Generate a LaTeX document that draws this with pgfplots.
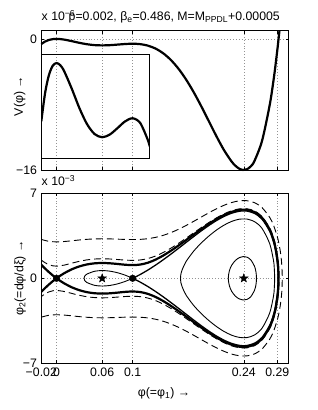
\documentclass[border=0pt]{standalone}
\usepackage{fontspec}
\setmainfont{Liberation Sans}
\usepackage{pgfplots}
\pgfplotsset{compat=1.18}
\usetikzlibrary{plotmarks}
\pgfdeclareplotmark{fstar}{%
  \pgfpathmoveto{\pgfpointpolar{90}{\pgfplotmarksize}}%
  \pgfpathlineto{\pgfpointpolar{126}{0.42\pgfplotmarksize}}%
  \pgfpathlineto{\pgfpointpolar{162}{\pgfplotmarksize}}%
  \pgfpathlineto{\pgfpointpolar{198}{0.42\pgfplotmarksize}}%
  \pgfpathlineto{\pgfpointpolar{234}{\pgfplotmarksize}}%
  \pgfpathlineto{\pgfpointpolar{270}{0.42\pgfplotmarksize}}%
  \pgfpathlineto{\pgfpointpolar{306}{\pgfplotmarksize}}%
  \pgfpathlineto{\pgfpointpolar{342}{0.42\pgfplotmarksize}}%
  \pgfpathlineto{\pgfpointpolar{18}{\pgfplotmarksize}}%
  \pgfpathlineto{\pgfpointpolar{54}{0.42\pgfplotmarksize}}%
  \pgfpathclose
  \pgfusepathqfillstroke
}
\pgfplotsset{
  panel/.style={
    scale only axis, width=247.4pt,
    xmin=-0.02, xmax=0.305,
    xtick={-0.02,0,0.06,0.1,0.246,0.29},
    tick align=inside, tick pos=both, major tick length=3pt,
    xmajorgrids, ymajorgrids,
    grid style={gray!85, line width=0.55pt, dash pattern=on 0.55pt off 2.4pt},
    axis line style={line width=0.6pt},
    every tick/.style={black, line width=0.5pt},
    tick label style={font=\fontsize{12.3}{14}\selectfont},
    /pgf/number format/assume math mode=true,
    scaled ticks=false,
  },
  thickc/.style={black, line width=2.2pt, line join=round},
  medc/.style={black, line width=1.3pt, line join=round},
  thinc/.style={black, line width=0.9pt, line join=round},
  dashc/.style={black, line width=0.9pt, dash pattern=on 7pt off 4pt},
}
\begin{document}
\fontsize{12.3}{14}\selectfont
\begin{tikzpicture}[x=1pt,y=1pt]
\path (0,0) rectangle (318,410);
% ---------- top panel ----------
\begin{axis}[panel, at={(41.3pt,240pt)}, anchor=south west, height=139.3pt,
  ymin=-16, ymax=1, ytick={-16,0}, yticklabels={−16,0}, xticklabel=\empty, clip=false]
\addplot[thickc, smooth] coordinates {
(-0.02,-0.624) (-0.015,-0.320) (-0.01,-0.1296) (-0.005,-0.0294) (0,0) (0.005,-0.0240)
(0.01,-0.0860) (0.02,-0.2736) (0.03,-0.4803) (0.04,-0.6520) (0.05,-0.7592) (0.06,-0.7937)
(0.07,-0.7651) (0.08,-0.6972) (0.09,-0.6251) (0.10,-0.5908) (0.11,-0.6408) (0.12,-0.8217)
(0.13,-1.1775) (0.14,-1.7455) (0.15,-2.5533) (0.16,-3.6152) (0.17,-4.9287) (0.18,-6.4710)
(0.19,-8.1958) (0.20,-10.0294) (0.21,-11.8676) (0.22,-13.5723) (0.23,-14.9676) (0.235,-15.4833)
(0.24,-15.8367) (0.245,-15.9944) (0.25,-15.9186) (0.255,-15.5699) (0.26,-14.9040) (0.27,-12.4325)
(0.28,-8.0890) (0.285,-5.095) (0.2875,-3.3207) (0.29,-1.4003) (0.291,-0.581) (0.292,0.270)
(0.29284,1.0)};
\end{axis}
% inset
\begin{axis}[scale only axis, at={(41.3pt,251.7pt)}, anchor=south west,
  width=108.4pt, height=104.3pt, xmin=-0.02, xmax=0.1225, ymin=-1.019, ymax=0.0966,
  xtick=\empty, ytick=\empty, axis line style={line width=0.6pt}]
\addplot[thickc, smooth] coordinates {
(-0.02,-0.624) (-0.015,-0.320) (-0.01,-0.1296) (-0.005,-0.0294) (0,0) (0.005,-0.0240)
(0.01,-0.0860) (0.02,-0.2736) (0.03,-0.4803) (0.04,-0.6520) (0.05,-0.7592) (0.06,-0.7937)
(0.07,-0.7651) (0.08,-0.6972) (0.09,-0.6251) (0.10,-0.5908) (0.11,-0.6408) (0.12,-0.8217)
(0.1225,-0.8925)};
\end{axis}
% ---------- bottom panel ----------
\begin{axis}[panel, at={(41.3pt,46.7pt)}, anchor=south west, height=170pt,
  ymin=-7, ymax=7, ytick={-7,0,7}, yticklabels={−7,0,7},
  xticklabels={−0.02,0,0.06,0.1,0.24,0.29}]
% outer dashed (E = 4.5)
\addplot[dashc, smooth] coordinates {
(-0.02,3.201) (-0.01,3.043) (0,3.0) (0.01,3.029) (0.02,3.090) (0.03,3.156) (0.04,3.210)
(0.05,3.243) (0.06,3.254) (0.07,3.245) (0.08,3.224) (0.09,3.202) (0.10,3.191) (0.11,3.207)
(0.12,3.262) (0.13,3.370) (0.14,3.534) (0.15,3.756) (0.16,4.029) (0.17,4.342) (0.18,4.684)
(0.19,5.039) (0.20,5.391) (0.21,5.721) (0.22,6.012) (0.23,6.240) (0.24,6.378) (0.25,6.390)
(0.26,6.230) (0.27,5.819) (0.28,5.018) (0.285,4.381) (0.29,3.435) (0.292,2.909) (0.294,2.211)
(0.295,1.738) (0.296,1.038) (0.29654,0)
(0.296,-1.038) (0.295,-1.738) (0.294,-2.211) (0.292,-2.909) (0.29,-3.435) (0.285,-4.381)
(0.28,-5.018) (0.27,-5.819) (0.26,-6.230) (0.25,-6.390) (0.24,-6.378) (0.23,-6.240) (0.22,-6.012)
(0.21,-5.721) (0.20,-5.391) (0.19,-5.039) (0.18,-4.684) (0.17,-4.342) (0.16,-4.029) (0.15,-3.756)
(0.14,-3.534) (0.13,-3.370) (0.12,-3.262) (0.11,-3.207) (0.10,-3.191) (0.09,-3.202) (0.08,-3.224)
(0.07,-3.245) (0.06,-3.254) (0.05,-3.243) (0.04,-3.210) (0.03,-3.156) (0.02,-3.090) (0.01,-3.029)
(0,-3.0) (-0.01,-3.043) (-0.02,-3.201)};
% inner dashed (E = 0.5)
\addplot[dashc, smooth] coordinates {
(-0.02,1.499) (-0.015,1.281) (-0.01,1.122) (-0.005,1.029) (0,1.0) (0.01,1.083) (0.02,1.244)
(0.03,1.400) (0.04,1.518) (0.05,1.587) (0.06,1.609) (0.07,1.591) (0.08,1.547) (0.09,1.500)
(0.10,1.477) (0.11,1.510) (0.12,1.626) (0.13,1.832) (0.14,2.119) (0.15,2.471) (0.16,2.869)
(0.17,3.295) (0.18,3.734) (0.19,4.170) (0.20,4.589) (0.21,4.973) (0.22,5.305) (0.23,5.562)
(0.24,5.716) (0.25,5.730) (0.26,5.551) (0.27,5.086) (0.28,4.145) (0.285,3.345) (0.2875,2.764)
(0.29,1.950) (0.291,1.470) (0.2915,1.145) (0.292,0.678) (0.29226,0)
(0.292,-0.678) (0.2915,-1.145) (0.291,-1.470) (0.29,-1.950) (0.2875,-2.764) (0.285,-3.345)
(0.28,-4.145) (0.27,-5.086) (0.26,-5.551) (0.25,-5.730) (0.24,-5.716) (0.23,-5.562) (0.22,-5.305)
(0.21,-4.973) (0.20,-4.589) (0.19,-4.170) (0.18,-3.734) (0.17,-3.295) (0.16,-2.869) (0.15,-2.471)
(0.14,-2.119) (0.13,-1.832) (0.12,-1.626) (0.11,-1.510) (0.10,-1.477) (0.09,-1.500) (0.08,-1.547)
(0.07,-1.591) (0.06,-1.609) (0.05,-1.587) (0.04,-1.518) (0.03,-1.400) (0.02,-1.244) (0.01,-1.083)
(0,-1.0) (-0.005,-1.029) (-0.01,-1.122) (-0.015,-1.281) (-0.02,-1.499)};
% small oval (E = -14.4)
\addplot[thinc, smooth] coordinates {
(0.245,1.786) (0.25,1.743) (0.255,1.530) (0.26,1.004) (0.262,0.527) (0.26267,0)
(0.262,-0.527) (0.26,-1.004) (0.255,-1.530) (0.25,-1.743) (0.245,-1.786) (0.24,-1.695)
(0.235,-1.472) (0.23,-1.065) (0.227,-0.60) (0.2256,0) (0.227,0.60) (0.23,1.065) (0.235,1.472)
(0.24,1.695) (0.245,1.786)};
% teardrop (E = -4)
\addplot[thinc, smooth] coordinates {
(0.25,4.882) (0.26,4.670) (0.27,4.107) (0.28,2.860) (0.285,1.480) (0.286,0.877) (0.28654,0)
(0.286,-0.877) (0.285,-1.480) (0.28,-2.860) (0.27,-4.107) (0.26,-4.670) (0.25,-4.882)
(0.24,-4.866) (0.23,-4.684) (0.22,-4.375) (0.21,-3.967) (0.20,-3.473) (0.19,-2.897)
(0.18,-2.223) (0.17,-1.363) (0.165,-0.695) (0.1635,-0.39) (0.1629,0) (0.1635,0.39)
(0.165,0.695) (0.17,1.363) (0.18,2.223) (0.19,2.897) (0.20,3.473) (0.21,3.967) (0.22,4.375)
(0.23,4.684) (0.24,4.866) (0.25,4.882)};
% separatrix through 0.1: small lobe
\addplot[thinc, smooth] coordinates {
(0.1,0) (0.095,0.138) (0.09,0.262) (0.08,0.461) (0.07,0.590) (0.06,0.637) (0.05,0.580)
(0.04,0.350) (0.038,0.253) (0.037,0.173) (0.0361,0) (0.037,-0.173) (0.038,-0.253)
(0.04,-0.350) (0.05,-0.580) (0.06,-0.637) (0.07,-0.590) (0.08,-0.461) (0.09,-0.262)
(0.095,-0.138) (0.1,0)};
% separatrix through 0.1: big lobe
\addplot[medc, smooth] coordinates {
(0.1,0) (0.105,0.152) (0.11,0.316) (0.12,0.680) (0.13,1.083) (0.14,1.520) (0.15,1.981)
(0.16,2.459) (0.17,2.945) (0.18,3.429) (0.19,3.900) (0.20,4.345) (0.21,4.749) (0.22,5.095)
(0.23,5.362) (0.24,5.522) (0.246,5.551) (0.25,5.537) (0.26,5.350) (0.27,4.867) (0.28,3.873)
(0.285,3.001) (0.2875,2.337) (0.29,1.272) (0.2905,0.893) (0.2908,0.566) (0.2910,0)
(0.2908,-0.566) (0.2905,-0.893) (0.29,-1.272) (0.2875,-2.337) (0.285,-3.001) (0.28,-3.873)
(0.27,-4.867) (0.26,-5.350) (0.25,-5.537) (0.246,-5.551) (0.24,-5.522) (0.23,-5.362)
(0.22,-5.095) (0.21,-4.749) (0.20,-4.345) (0.19,-3.900) (0.18,-3.429) (0.17,-2.945)
(0.16,-2.459) (0.15,-1.981) (0.14,-1.520) (0.13,-1.083) (0.12,-0.680) (0.11,-0.316)
(0.105,-0.152) (0.1,0)};
% E = 0 separatrix (homoclinic loop)
\addplot[thickc, smooth] coordinates {
(0,0) (0.005,0.219) (0.01,0.415) (0.02,0.740) (0.03,0.980) (0.04,1.142) (0.05,1.232)
(0.06,1.260) (0.07,1.237) (0.08,1.181) (0.09,1.118) (0.10,1.087) (0.11,1.132) (0.12,1.282)
(0.13,1.535) (0.14,1.868) (0.15,2.260) (0.16,2.689) (0.17,3.140) (0.18,3.598) (0.19,4.049)
(0.20,4.479) (0.21,4.872) (0.22,5.210) (0.23,5.471) (0.24,5.628) (0.246,5.657) (0.25,5.642)
(0.26,5.460) (0.27,4.986) (0.28,4.022) (0.285,3.192) (0.2875,2.577) (0.29,1.673) (0.2905,1.408)
(0.291,1.078) (0.2915,0.558) (0.2917,0)
(0.2915,-0.558) (0.291,-1.078) (0.2905,-1.408) (0.29,-1.673) (0.2875,-2.577) (0.285,-3.192)
(0.28,-4.022) (0.27,-4.986) (0.26,-5.460) (0.25,-5.642) (0.246,-5.657) (0.24,-5.628)
(0.23,-5.471) (0.22,-5.210) (0.21,-4.872) (0.20,-4.479) (0.19,-4.049) (0.18,-3.598)
(0.17,-3.140) (0.16,-2.689) (0.15,-2.260) (0.14,-1.868) (0.13,-1.535) (0.12,-1.282)
(0.11,-1.132) (0.10,-1.087) (0.09,-1.118) (0.08,-1.181) (0.07,-1.237) (0.06,-1.260)
(0.05,-1.232) (0.04,-1.142) (0.03,-0.980) (0.02,-0.740) (0.01,-0.415) (0.005,-0.219) (0,0)};
% E = 0, left branches
\addplot[thickc] coordinates {
(-0.02,1.117) (-0.015,0.801) (-0.01,0.509) (-0.005,0.243) (0,0)
(-0.005,-0.243) (-0.01,-0.509) (-0.015,-0.801) (-0.02,-1.117)};
% equilibria
\addplot[only marks, mark=*, mark size=3.3pt, black] coordinates {(0,0) (0.1,0)};
\addplot[only marks, mark=fstar, mark size=4.6pt, black, mark options={fill=black, line width=0.3pt}] coordinates {(0.06,0) (0.246,0)};
\end{axis}
% ---------- texts ----------
\node[anchor=base west, inner sep=0] at (41.5,389.3) {x 10\textsuperscript{−6}};
\node[anchor=base west, inner sep=0] at (68.5,389.3) {p=0.002, β\textsubscript{e}=0.486, M=M\textsubscript{PPDL}+0.00005};
\node[anchor=base west, inner sep=0] at (41.5,224) {x 10\textsuperscript{−3}};
\node[rotate=90, anchor=base, inner sep=0] at (23,314) {V(φ) →};
\node[rotate=90, anchor=base, inner sep=0] at (23.5,132) {φ\textsubscript{2}(=dφ/dξ) →};
\node[anchor=base, inner sep=0] at (164,13) {φ(=φ\textsubscript{1}) →};
\end{tikzpicture}
\end{document}
